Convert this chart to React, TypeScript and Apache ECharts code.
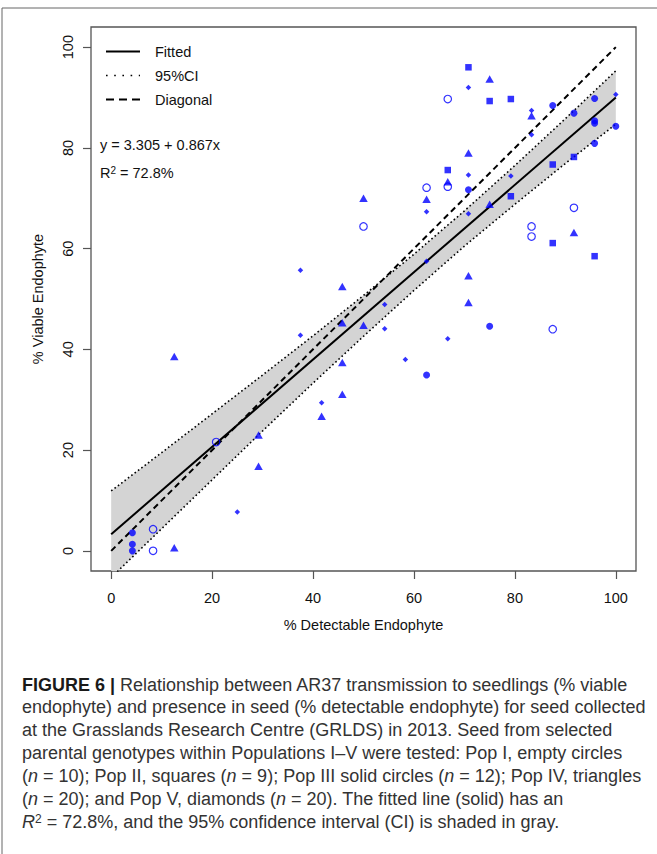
import React, { useEffect, useRef } from "react";
import * as echarts from "echarts";

// ---------- data ----------
const xTicks = [0, 20, 40, 60, 80, 100];
const yTicks = [0, 20, 40, 60, 80, 100];

// Pop I – empty circles
const pop1 = [
  [20.8, 21.6], [8.3, 4.3], [8.3, 0], [50, 64.4], [62.5, 72.1], [66.7, 89.7],
  [66.7, 72.3], [83.3, 64.4], [83.3, 62.4], [91.7, 68.1], [87.5, 44.0],
];
// Pop II – squares
const pop2 = [
  [70.8, 96.0], [75, 89.3], [79.2, 89.7], [66.7, 75.6], [91.7, 78.2],
  [87.5, 76.7], [79.2, 70.4], [87.5, 61.1], [95.8, 58.5],
];
// Pop III – solid circles
const pop3 = [
  [4.2, 3.6], [4.2, 1.3], [4.2, 0], [62.5, 34.9], [75, 44.6], [70.8, 71.7],
  [87.5, 88.4], [95.8, 89.8], [91.7, 86.9], [95.8, 85.4], [95.8, 84.9],
  [100, 84.3], [95.8, 80.9],
];
// Pop IV – triangles
const pop4 = [
  [12.5, 38.6], [29.2, 23.0], [29.2, 16.8], [12.5, 0.6], [45.8, 52.5],
  [45.8, 45.3], [50, 44.8], [45.8, 37.4], [45.8, 31.1], [41.7, 26.7],
  [70.8, 54.6], [70.8, 49.3], [50, 70.0], [62.5, 69.8], [75, 93.7],
  [83.3, 86.4], [70.8, 79.0], [66.7, 73.3], [75, 68.8], [91.7, 63.2],
];
// Pop V – diamonds
const pop5 = [
  [25, 7.7], [37.5, 55.7], [37.5, 42.8], [41.7, 29.4], [54.2, 48.9],
  [54.2, 44.1], [58.3, 38.0], [62.5, 57.5], [62.5, 67.3], [66.7, 42.1],
  [70.8, 66.9], [70.8, 92.0], [70.8, 74.6], [79.2, 74.4], [83.3, 87.4],
  [83.3, 82.6], [100, 90.6],
];

// 95% CI band edges
const ciX = [0, 10, 20, 30, 40, 50, 60, 70, 80, 90, 100];
const ciUpper = [11.9, 19.5, 27.2, 34.9, 42.7, 50.7, 58.9, 67.5, 76.5, 85.8, 95.3];
const ciLower = [-5.3, 4.4, 14.1, 23.8, 33.3, 42.6, 51.7, 60.5, 68.8, 76.9, 84.7];

const fitted = [[0, 3.305], [100, 90.005]];
const diagonal = [[0, 0], [100, 100]];

const captionLines = [
  "{b|FIGURE 6 |} Relationship between AR37 transmission to seedlings (% viable",
  "endophyte) and presence in seed (% detectable endophyte) for seed collected",
  "at the Grasslands Research Centre (GRLDS) in 2013. Seed from selected",
  "parental genotypes within Populations I–V were tested: Pop I, empty circles",
  "({i|n} = 10); Pop II, squares ({i|n} = 9); Pop III solid circles ({i|n} = 12); Pop IV, triangles",
  "({i|n} = 20); and Pop V, diamonds ({i|n} = 20). The fitted line (solid) has an",
  "{i|R}{s|2} = 72.8%, and the 95% confidence interval (CI) is shaded in gray.",
];

const FONT = "'Liberation Sans', Arial, Helvetica, sans-serif";
const BLUE = "#0000ff";

export default function App() {
  const ref = useRef<HTMLDivElement>(null);
  useEffect(() => {
    if (!ref.current) return;
    const chart = echarts.init(ref.current, undefined, { renderer: "svg" });

    const lowerData = ciX.map((x, i) => [x, ciLower[i]]);
    const upperData = ciX.map((x, i) => [x, ciUpper[i]]);

    const axisCommon = {
      type: "value",
      min: -4,
      max: 104,
      splitLine: { show: false },
      axisLine: { show: false, onZero: false },
    };

    const capFont = 18;
    const capRich = {
      b: { fontWeight: "bold", fontSize: capFont, fontFamily: FONT, fill: "#1a1a1a" },
      i: { fontStyle: "italic", fontSize: capFont, fontFamily: FONT, fill: "#333" },
      s: { fontSize: 12, fontFamily: FONT, verticalAlign: "top", fill: "#333" },
    };

    const graphics: any[] = [
      // outer frame
      { type: "line", shape: { x1: 2, y1: 8, x2: 2, y2: 854 }, style: { stroke: "#666", lineWidth: 1 } },
      { type: "line", shape: { x1: 2, y1: 8, x2: 657, y2: 8 }, style: { stroke: "#666", lineWidth: 1 } },
      // legend
      { type: "line", shape: { x1: 106, y1: 51.5, x2: 140, y2: 51.5 }, style: { stroke: "#000", lineWidth: 2 } },
      { type: "line", shape: { x1: 106, y1: 75.5, x2: 140, y2: 75.5 }, style: { stroke: "#000", lineWidth: 1.6, lineDash: [1.6, 6.6] } },
      { type: "line", shape: { x1: 106, y1: 99.5, x2: 140, y2: 99.5 }, style: { stroke: "#000", lineWidth: 2, lineDash: [8, 5] } },
      { type: "text", x: 155, y: 51.5, style: { text: "Fitted", fontSize: 14.5, fontFamily: FONT, fill: "#111", verticalAlign: "middle" } },
      { type: "text", x: 155, y: 75.5, style: { text: "95%CI", fontSize: 14.5, fontFamily: FONT, fill: "#111", verticalAlign: "middle" } },
      { type: "text", x: 155, y: 99.5, style: { text: "Diagonal", fontSize: 14.5, fontFamily: FONT, fill: "#111", verticalAlign: "middle" } },
      // equation
      { type: "text", x: 100, y: 145, style: { text: "y = 3.305 + 0.867x", fontSize: 14.5, fontFamily: FONT, fill: "#111", verticalAlign: "middle" } },
      {
        type: "text", x: 100, y: 173,
        style: {
          text: "{a|R}{s|2}{a| = 72.8%}",
          verticalAlign: "middle",
          rich: {
            a: { fontSize: 14.5, fontFamily: FONT, fill: "#111" },
            s: { fontSize: 10, fontFamily: FONT, fill: "#111", verticalAlign: "top" },
          },
        },
      },
    ];

    captionLines.forEach((line, i) => {
      graphics.push({
        type: "text",
        x: 22,
        y: 684.5 + i * 22.9,
        style: {
          text: line,
          fontSize: capFont,
          fontFamily: FONT,
          fill: "#333",
          verticalAlign: "middle",
          rich: capRich,
        },
      });
    });

    chart.setOption({
      animation: false,
      backgroundColor: "#fff",
      textStyle: { fontFamily: FONT },
      grid: {
        left: 91,
        right: 21,
        top: 27,
        bottom: 283,
        show: true,
        borderColor: "#555",
        borderWidth: 1.3,
      },
      xAxis: {
        ...axisCommon,
        name: "% Detectable Endophyte",
        nameLocation: "middle",
        nameGap: 46,
        nameTextStyle: { fontSize: 14.5, color: "#111", fontFamily: FONT },
        axisTick: { show: true, length: 8, customValues: xTicks, lineStyle: { color: "#555", width: 1.2 } },
        axisLabel: { customValues: xTicks, fontSize: 14.5, color: "#111", margin: 19, fontFamily: FONT },
      },
      yAxis: {
        ...axisCommon,
        name: "% Viable Endophyte",
        nameLocation: "middle",
        nameGap: 46,
        nameTextStyle: { fontSize: 14.5, color: "#111", fontFamily: FONT },
        axisTick: { show: true, length: 8, customValues: yTicks, lineStyle: { color: "#555", width: 1.2 } },
        axisLabel: { customValues: yTicks, rotate: 90, fontSize: 14.5, color: "#111", margin: 16, fontFamily: FONT },
      },
      graphic: graphics,
      series: [
        {
          type: "custom",
          data: [0],
          clip: true,
          silent: true,
          z: 1,
          renderItem: (params: any, api: any) => {
            const pts: number[][] = [];
            for (let i = 0; i < ciX.length; i++) pts.push(api.coord([ciX[i], ciUpper[i]]));
            for (let i = ciX.length - 1; i >= 0; i--) pts.push(api.coord([ciX[i], ciLower[i]]));
            const cs = params.coordSys;
            return {
              type: "polygon",
              shape: { points: pts },
              style: { fill: "#d4d4d4", stroke: "none" },
              clipPath: { type: "rect", shape: { x: cs.x, y: cs.y, width: cs.width, height: cs.height } },
            };
          },
        },
        {
          type: "line", data: upperData, symbol: "none", z: 2,
          lineStyle: { color: "#000", width: 1.6, type: [1.6, 2.6] },
        },
        {
          type: "line", data: lowerData, symbol: "none", z: 2,
          lineStyle: { color: "#000", width: 1.6, type: [1.6, 2.6] },
        },
        {
          type: "line", data: diagonal, symbol: "none", z: 3,
          lineStyle: { color: "#000", width: 2, type: [6, 4] },
        },
        {
          type: "line", data: fitted, symbol: "none", z: 3,
          lineStyle: { color: "#000", width: 2 },
        },
        {
          type: "scatter", data: pop1, symbol: "circle", symbolSize: 7.5, z: 4,
          itemStyle: { color: "rgba(0,0,0,0)", borderColor: BLUE, borderWidth: 1.2 },
        },
        {
          type: "scatter", data: pop2, symbol: "rect", symbolSize: 6.5, z: 4,
          itemStyle: { color: BLUE },
        },
        {
          type: "scatter", data: pop3, symbol: "circle", symbolSize: 7, z: 4,
          itemStyle: { color: BLUE },
        },
        {
          type: "scatter", data: pop4, symbol: "triangle", symbolSize: [8.5, 7.5], z: 4,
          itemStyle: { color: BLUE },
        },
        {
          type: "scatter", data: pop5, symbol: "diamond", symbolSize: 5.5, z: 4,
          itemStyle: { color: BLUE },
        },
      ],
    });
    return () => chart.dispose();
  }, []);
  return (
    <div
      ref={ref}
      style={{ position: "absolute", left: 0, top: 0, width: 657, height: 854, background: "#fff" }}
    />
  );
}
